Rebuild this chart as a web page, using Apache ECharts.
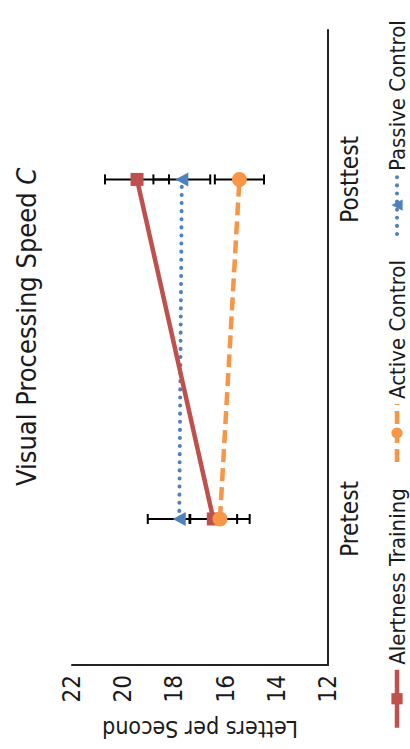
<!DOCTYPE html>
<html>
<head>
<meta charset="utf-8">
<script src="https://cdn.jsdelivr.net/npm/echarts@6/dist/echarts.min.js"></script>
<style>
html,body{margin:0;padding:0;width:410px;height:749px;overflow:hidden;background:#fff;}
#chart{position:absolute;left:0;top:749px;width:749px;height:410px;transform-origin:0 0;transform:rotate(-90deg);}
</style>
</head>
<body>
<div id="chart"></div>
<script>
// Data
const categories = ['Pretest', 'Posttest'];
const seriesNames = ['Alertness Training', 'Active Control', 'Passive Control'];
const alertness = [16.48, 19.46];
const activeCtrl = [16.22, 15.46];
const passiveCtrl = [17.81, 17.71];
const alertnessErr = [0.93, 1.25];
const activeErr = [1.16, 0.96];
const passiveErr = [1.23, 1.11];
const yTicks = [12, 14, 16, 18, 20, 22];

const FONT = "'Liberation Sans Narrow','DejaVu Sans Condensed','Roboto',sans-serif";
const TXT = '#1a1a1a';
const COLORS = ['#c0504d', '#f79646', '#4f81bd'];

function pts(vals) { return vals.map((v, i) => [i, v]); }
function errPts(vals, errs) { return vals.map((v, i) => [i, v - errs[i], v + errs[i]]); }

const errorData = []
  .concat(errPts(alertness, alertnessErr))
  .concat(errPts(activeCtrl, activeErr))
  .concat(errPts(passiveCtrl, passiveErr));

const chart = echarts.init(document.getElementById('chart'), null, {renderer: 'svg'});
chart.setOption({
  animation: false,
  textStyle: {fontFamily: FONT},
  title: {
    text: 'Visual Processing Speed {i|C}',
    left: 258, top: 8,
    textStyle: {fontFamily: FONT, fontSize: 27, fontWeight: 'normal', color: TXT,
      rich: {i: {fontFamily: FONT, fontSize: 27, fontStyle: 'italic', color: TXT}}}
  },
  legend: {
    data: [
      {name: seriesNames[0], lineStyle: {width: 4.5, color: COLORS[0], type: 'solid'}},
      {name: seriesNames[1], lineStyle: {width: 4.5, color: COLORS[1], type: [13, 6]}},
      {name: seriesNames[2], lineStyle: {width: 4, color: COLORS[2], type: [0.1, 8], cap: 'round'}}
    ],
    left: 14, top: 381,
    itemWidth: 58, itemHeight: 14, itemGap: 24,
    textStyle: {fontFamily: FONT, fontSize: 22, color: TXT}
  },
  grid: {left: 84, right: 30, top: 72, bottom: 82, containLabel: false},
  xAxis: {
    type: 'value', min: -0.43, max: 1.44,
    axisLine: {show: true, onZero: false, lineStyle: {color: '#222', width: 2}},
    axisTick: {show: false},
    splitLine: {show: false},
    axisLabel: {
      customValues: [0, 1],
      formatter: v => categories[Math.round(v)] || '',
      fontFamily: FONT, fontSize: 24, color: TXT, margin: 10
    }
  },
  yAxis: {
    type: 'value', min: yTicks[0], max: yTicks[yTicks.length - 1], interval: 2,
    name: 'Letters per Second', nameLocation: 'middle', nameGap: 52, nameRotate: 90,
    nameTextStyle: {fontFamily: FONT, fontSize: 23, color: TXT},
    axisLine: {show: true, onZero: false, lineStyle: {color: '#222', width: 2}},
    axisTick: {show: false},
    splitLine: {show: false},
    axisLabel: {fontFamily: FONT, fontSize: 24, color: TXT, margin: 10}
  },
  series: [
    {
      type: 'custom', name: 'err', z: 1, silent: true,
      data: errorData,
      renderItem: function (params, api) {
        const lo = api.coord([api.value(0), api.value(1)]);
        const hi = api.coord([api.value(0), api.value(2)]);
        const hw = 5;
        const st = {stroke: '#000', lineWidth: 2};
        return {type: 'group', children: [
          {type: 'line', shape: {x1: lo[0], y1: lo[1], x2: hi[0], y2: hi[1]}, style: st},
          {type: 'line', shape: {x1: lo[0] - hw, y1: lo[1], x2: lo[0] + hw, y2: lo[1]}, style: st},
          {type: 'line', shape: {x1: hi[0] - hw, y1: hi[1], x2: hi[0] + hw, y2: hi[1]}, style: st}
        ]};
      }
    },
    {
      type: 'line', name: seriesNames[0], z: 3, data: pts(alertness),
      symbol: 'rect', symbolSize: 13,
      itemStyle: {color: COLORS[0]},
      lineStyle: {color: COLORS[0], width: 4.5, type: 'solid'}
    },
    {
      type: 'line', name: seriesNames[1], z: 4, data: pts(activeCtrl),
      symbol: 'circle', symbolSize: 15,
      itemStyle: {color: COLORS[1]},
      lineStyle: {color: COLORS[1], width: 4.5, type: [13, 6]}
    },
    {
      type: 'line', name: seriesNames[2], z: 2, data: pts(passiveCtrl),
      symbol: 'triangle', symbolSize: [14, 13],
      itemStyle: {color: COLORS[2]},
      lineStyle: {color: COLORS[2], width: 4, type: [0.1, 8], cap: 'round'}
    }
  ]
});
</script>
</body>
</html>
